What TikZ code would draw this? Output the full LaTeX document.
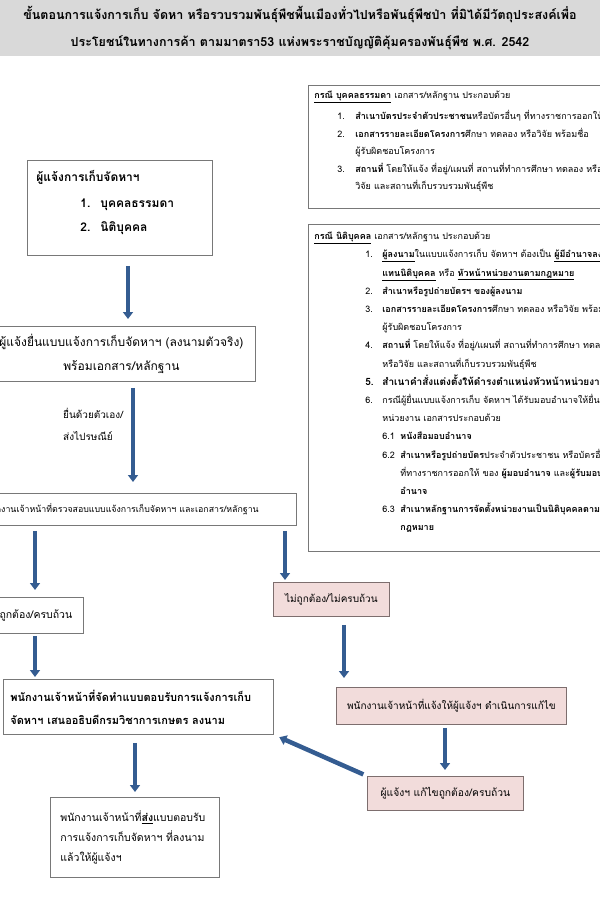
\documentclass[tikz,border=0pt]{standalone}
\usepackage{fontspec}
\setmainfont[Script=Thai]{Loma}
\usetikzlibrary{arrows.meta}
\definecolor{bandgray}{RGB}{217,217,217}
\definecolor{edgegray}{RGB}{120,120,120}
\definecolor{pinkfill}{RGB}{242,220,219}
\definecolor{pinkedge}{RGB}{125,110,110}
\definecolor{flowblue}{RGB}{52,92,145}
\newcommand{\nr}[3]{\hspace*{#1pt}\makebox[#2pt][l]{#3}}
\newcommand{\lowpad}[1]{\rule[-#1pt]{0pt}{#1pt}}
\begin{document}
\begin{tikzpicture}[x=1pt,y=-1pt,
    box/.style={draw=edgegray,line width=0.8pt,fill=white,inner sep=0pt,anchor=north west},
    pinkbox/.style={box,fill=pinkfill,draw=pinkedge},
    fs/.style 2 args={font={\fontsize{#1}{#2}\selectfont}},
    bfs/.style 2 args={font={\fontsize{#1}{#2}\selectfont\bfseries}},
    flow/.style={draw=flowblue,line width=3.6pt,-{Triangle[length=7pt,width=10pt]}}]
  \useasboundingbox (0,0) rectangle (600,900);
  \node[fill=bandgray,minimum width=600,minimum height=56,align=center,bfs={12.5}{27}] (title) at (300,28)
    {ขั้นตอนการแจ้งการเก็บ จัดหา หรือรวบรวมพันธุ์พืชพื้นเมืองทั่วไปหรือพันธุ์พืชป่า ที่มิได้มีวัตถุประสงค์เพื่อ\\
     ประโยชน์ในทางการค้า ตามมาตรา53 แห่งพระราชบัญญัติคุ้มครองพันธุ์พืช พ.ศ. 2542};
  % right hand lists of documents
  \node[box,minimum width=360,minimum height=123,text width=348,inner xsep=6pt,align=left,fs={9}{17.5}] (person) at (308,85)
    {\underline{\textbf{กรณี บุคคลธรรมดา}} เอกสาร/หลักฐาน ประกอบด้วย\\[4pt]
     \nr{23}{18}{1.}\textbf{สำเนาบัตรประจำตัวประชาชน}หรือบัตรอื่นๆ ที่ทางราชการออกให้\\
     \nr{23}{18}{2.}\textbf{เอกสารรายละเอียดโครงการ}ศึกษา ทดลอง หรือวิจัย พร้อมชื่อ\\
     \nr{41}{0}{}ผู้รับผิดชอบโครงการ\\
     \nr{23}{18}{3.}\textbf{สถานที่} โดยให้แจ้ง ที่อยู่/แผนที่ สถานที่ทำการศึกษา ทดลอง หรือ\\
     \nr{41}{0}{}วิจัย และสถานที่เก็บรวบรวมพันธุ์พืช\lowpad{13}};
  \node[box,minimum width=360,minimum height=327,text width=348,inner xsep=6pt,align=left,fs={9}{18.2}] (juristic) at (308,224)
    {\underline{\textbf{กรณี นิติบุคคล}} เอกสาร/หลักฐาน ประกอบด้วย\\
     \nr{51}{17}{1.}\underline{\textbf{ผู้ลงนาม}}ในแบบแจ้งการเก็บ จัดหาฯ ต้องเป็น \underline{\textbf{ผู้มีอำนาจลงนาม}}\\
     \nr{68}{0}{}\underline{\textbf{แทนนิติบุคคล}} หรือ \underline{\textbf{หัวหน้าหน่วยงานตามกฎหมาย}}\\
     \nr{51}{17}{2.}\textbf{สำเนาหรือรูปถ่ายบัตรฯ ของผู้ลงนาม}\\
     \nr{51}{17}{3.}\textbf{เอกสารรายละเอียดโครงการ}ศึกษา ทดลอง หรือวิจัย พร้อมชื่อ\\
     \nr{68}{0}{}ผู้รับผิดชอบโครงการ\\
     \nr{51}{17}{4.}\textbf{สถานที่} โดยให้แจ้ง ที่อยู่/แผนที่ สถานที่ทำการศึกษา ทดลอง\\
     \nr{68}{0}{}หรือวิจัย และสถานที่เก็บรวบรวมพันธุ์พืช\\
     {\fontsize{10}{18.2}\selectfont\bfseries\nr{51}{17}{5.}สำเนาคำสั่งแต่งตั้งให้ดำรงตำแหน่งหัวหน้าหน่วยงาน}\\
     \nr{51}{17}{6.}กรณีผู้ยื่นแบบแจ้งการเก็บ จัดหาฯ ได้รับมอบอำนาจให้ยื่นแทน\\
     \nr{68}{0}{}หน่วยงาน เอกสารประกอบด้วย\\
     \nr{68}{18}{6.1}\textbf{หนังสือมอบอำนาจ}\\
     \nr{68}{18}{6.2}\textbf{สำเนาหรือรูปถ่ายบัตร}ประจำตัวประชาชน หรือบัตรอื่นๆ\\
     \nr{86}{0}{}ที่ทางราชการออกให้ ของ \textbf{ผู้มอบอำนาจ} และ\textbf{ผู้รับมอบ}\\
     \nr{86}{0}{}\textbf{อำนาจ}\\
     \nr{68}{18}{6.3}\textbf{สำเนาหลักฐานการจัดตั้งหน่วยงานเป็นนิติบุคคลตาม}\\
     \nr{86}{0}{}\textbf{กฎหมาย}\lowpad{13}};
  % main flow
  \node[box,minimum width=176,minimum height=95,text width=167,inner xsep=9pt,align=left,bfs={12}{24}] (ptype) at (27,160)
    {ผู้แจ้งการเก็บจัดหาฯ\\[2pt] \nr{44}{20}{1.}บุคคลธรรมดา\\ \nr{44}{20}{2.}นิติบุคคล\lowpad{13}};
  \node[box,minimum width=268,minimum height=55,align=center,fs={12}{24}] (submit) at (-13,326)
    {ผู้แจ้งยื่นแบบแจ้งการเก็บจัดหาฯ (ลงนามตัวจริง)\\พร้อมเอกสาร/หลักฐาน};
  \node[anchor=west,align=left,inner sep=0pt,fs={10}{22}] (via) at (63,424) {ยื่นด้วยตัวเอง/\\ส่งไปรษณีย์};
  \node[box,minimum width=350,minimum height=32,fs={8.8}{12}] (check) at (-54,493)
    {พนักงานเจ้าหน้าที่ตรวจสอบแบบแจ้งการเก็บจัดหาฯ และเอกสาร/หลักฐาน};
  \node[box,minimum width=95,minimum height=36,fs={10.5}{12}] (ok) at (-12,597) {ถูกต้อง/ครบถ้วน};
  \node[pinkbox,minimum width=116,minimum height=34,fs={10}{12}] (notok) at (273,582) {ไม่ถูกต้อง/ไม่ครบถ้วน};
  \node[box,minimum width=270,minimum height=55,text width=256,inner xsep=7pt,align=left,bfs={11}{23}] (issue) at (3,679)
    {พนักงานเจ้าหน้าที่จัดทำแบบตอบรับการแจ้งการเก็บ\\จัดหาฯ เสนออธิบดีกรมวิชาการเกษตร ลงนาม};
  \node[box,minimum width=169,minimum height=80,text width=149,inner xsep=10pt,align=left,fs={10.5}{20}] (send) at (50,797)
    {พนักงานเจ้าหน้าที่\underline{\textbf{ส่ง}}แบบตอบรับ\\การแจ้งการเก็บจัดหาฯ ที่ลงนาม\\แล้วให้ผู้แจ้งฯ};
  \node[pinkbox,minimum width=230,minimum height=37,fs={10}{12}] (notify) at (336,687) {พนักงานเจ้าหน้าที่แจ้งให้ผู้แจ้งฯ ดำเนินการแก้ไข};
  \node[pinkbox,minimum width=156,minimum height=34,fs={10.3}{12}] (fixed) at (367,776) {ผู้แจ้งฯ แก้ไขถูกต้อง/ครบถ้วน};
  % arrows
  \draw[flow,shorten <=10pt,shorten >=7pt] (ptype.south -| 128,0) -- (submit.north -| 128,0);
  \draw[flow,shorten <=6pt,shorten >=11pt] (submit.south -| 133,0) -- (check.north -| 133,0);
  \draw[flow,shorten <=5pt,shorten >=7pt] (check.south -| 35,0) -- (ok.north -| 35,0);
  \draw[flow,shorten <=5pt,shorten >=2pt] (check.south -| 285,0) -- (notok.north -| 285,0);
  \draw[flow,shorten <=2pt,shorten >=2pt] (ok.south -| 35,0) -- (issue.north -| 35,0);
  \draw[flow,shorten <=8pt,shorten >=5pt] (issue.south -| 135,0) -- (send.north -| 135,0);
  \draw[flow,shorten <=8pt,shorten >=9pt] (notok.south -| 344,0) -- (notify.north -| 344,0);
  \draw[flow,shorten <=3pt,shorten >=6pt] (notify.south -| 445,0) -- (fixed.north -| 445,0);
  \draw[flow,line width=4.5pt,shorten <=4pt,shorten >=6pt] (fixed.north west) -- (issue.south east);
\end{tikzpicture}
\end{document}
